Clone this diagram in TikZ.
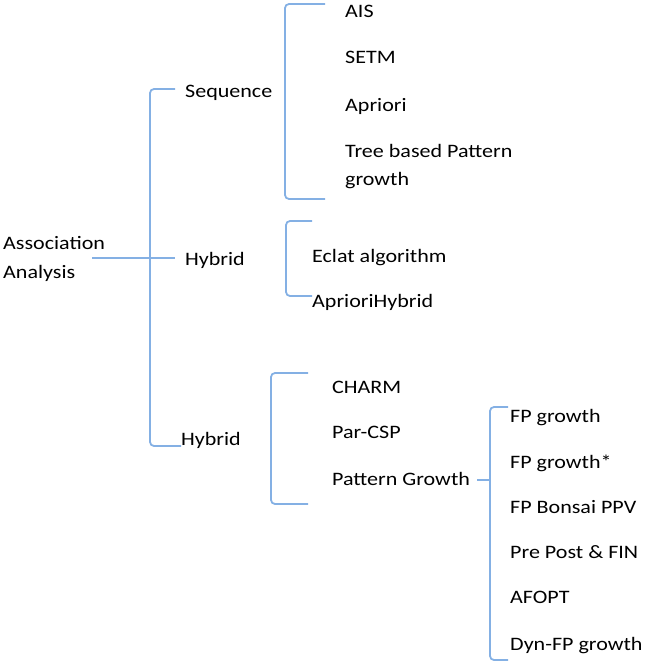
\documentclass[tikz,border=0pt]{standalone}
\usepackage{fontspec}
\setmainfont{Carlito}[FakeStretch=1.16]
\definecolor{brk}{RGB}{132,176,228}
\begin{document}
\begin{tikzpicture}[x=1pt,y=-1pt,
  lbl/.style={anchor=base west,inner sep=0pt,font=\fontsize{19}{29}\selectfont,text=black},
  brline/.style={draw=brk,line width=1.8pt,rounded corners=4pt}]
\useasboundingbox (0,0) rectangle (646,666);
% texts
\node[lbl,align=left] (root) at (3,278) {Association\\Analysis};
\node[lbl] (seq) at (185,98) {Sequence};
\node[lbl] (hyb1) at (185,265) {Hybrid};
\node[lbl] (hyb2) at (181,445) {Hybrid};
\node[lbl] (ais) at (345,18) {AIS};
\node[lbl] (setm) at (345,64) {SETM};
\node[lbl] (apr) at (345,111) {Apriori};
\node[lbl,align=left,font=\fontsize{19}{28}\selectfont] (tree) at (345,185) {Tree based Pattern\\growth};
\node[lbl] (eclat) at (312,262) {Eclat algorithm};
\node[lbl] (aprh) at (312,307) {AprioriHybrid};
\node[lbl] (charm) at (332,393) {CHARM};
\node[lbl] (par) at (332,438) {Par-CSP};
\node[lbl] (pg) at (332,485) {Pattern Growth};
\node[lbl] (fp1) at (510,422) {FP growth};
\node[lbl] (fp2) at (510,468) {FP growth*};
\node[lbl] (fp3) at (510,513) {FP Bonsai PPV};
\node[lbl] (fp4) at (510,558) {Pre Post \& FIN};
\node[lbl] (fp5) at (510,603) {AFOPT};
\node[lbl] (fp6) at (510,650) {Dyn-FP growth};
% main bracket
\coordinate (r0) at (92,258);
\coordinate (r1) at (175,258);
\draw[brline] (r0) -- (r1);
\draw[brline] (175,89) -- (150,89) -- (150,446) -- (hyb2.base west |- 0,446);
% sequence bracket
\draw[brline] (325,4) -- (285,4) -- (285,199) -- (325,199);
% hybrid bracket
\draw[brline] (312,221) -- (286,221) -- (286,296) -- (aprh.west |- 0,296);
% third bracket
\draw[brline] (308,373) -- (271,373) -- (271,504) -- (308,504);
% pattern growth dash
\coordinate (d0) at (477,480);
\coordinate (d1) at (489,480);
\draw[brline] (d0) -- (d1);
% fourth bracket
\draw[brline] (508,407) -- (490,407) -- (490,660) -- (508,660);
\end{tikzpicture}
\end{document}
